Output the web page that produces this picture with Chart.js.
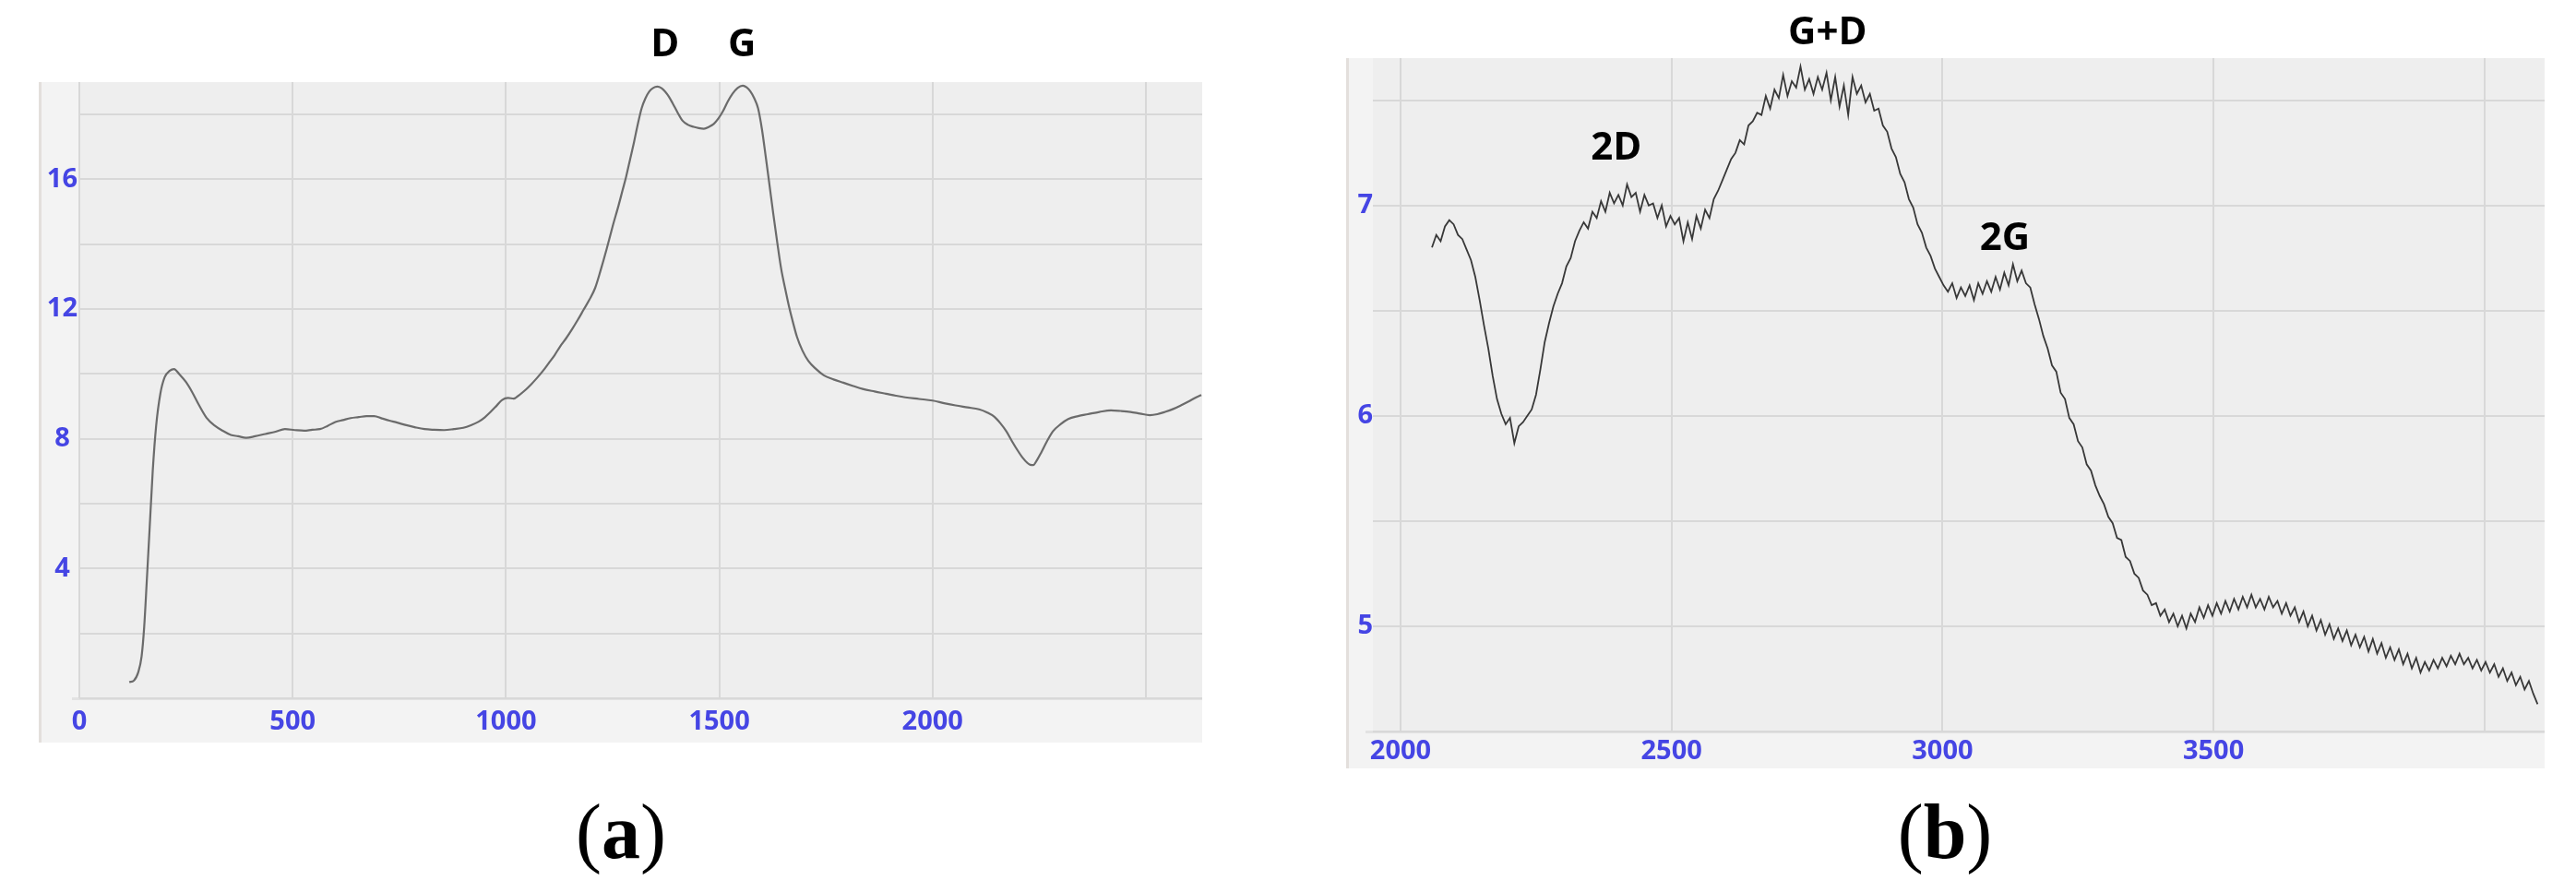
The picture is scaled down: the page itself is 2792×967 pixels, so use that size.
<!DOCTYPE html>
<html>
<head>
<meta charset="utf-8">
<script src="https://cdn.jsdelivr.net/npm/chart.js@4.4.1/dist/chart.umd.min.js"></script>
<style>
  html, body { margin: 0; padding: 0; background: #fff; }
  body { width: 2792px; height: 967px; position: relative; overflow: hidden; }
  canvas { position: absolute; top: 0; }
  #chartA { left: 0; }
  #chartB { left: 1400px; }
  .caption {
    position: absolute; top: 854px; width: 300px; text-align: center;
    font-family: 'Liberation Serif', 'DejaVu Serif', serif; font-size: 84px; line-height: 96px; color: #000;
  }
  #capA { left: 523px; }
  #capB { left: 1958px; }
</style>
</head>
<body>
<canvas id="chartA" width="1340" height="840"></canvas>
<canvas id="chartB" width="1392" height="840"></canvas>
<div class="caption" id="capA">(<b>a</b>)</div>
<div class="caption" id="capB">(<b>b</b>)</div>
<script>
// panel (a): Raman shift vs intensity
const ramanA = [117, 128, 138, 146, 152, 158, 165, 172, 180, 190,
  200, 212, 222, 234, 250, 264, 280, 298, 318, 336,
  355, 372, 391, 412, 436, 460, 482, 505, 527, 546,
  564, 582, 600, 618, 636, 655, 673, 691, 709, 727,
  745, 764, 786, 809, 832, 855, 878, 900, 918, 936,
  950, 964, 978, 991, 1005, 1018, 1031, 1045, 1059, 1073,
  1087, 1100, 1114, 1127, 1141, 1155, 1168, 1182, 1196, 1209,
  1222, 1236, 1250, 1264, 1273, 1282, 1291, 1300, 1309, 1318,
  1327, 1336, 1345, 1355, 1364, 1373, 1382, 1391, 1402, 1414,
  1427, 1440, 1452, 1464, 1476, 1487, 1498, 1509, 1520, 1531,
  1543, 1555, 1564, 1573, 1582, 1591, 1600, 1609, 1618, 1627,
  1636, 1645, 1655, 1664, 1673, 1682, 1695, 1709, 1727, 1745,
  1768, 1791, 1814, 1836, 1864, 1891, 1914, 1936, 1968, 2000,
  2027, 2054, 2082, 2109, 2127, 2145, 2159, 2173, 2186, 2200,
  2211, 2222, 2229, 2236, 2245, 2254, 2268, 2282, 2300, 2318,
  2341, 2364, 2391, 2418, 2441, 2464, 2486, 2509, 2527, 2545,
  2564, 2582, 2600, 2618, 2630];
const intensityA = [0.50, 0.55, 0.80, 1.30, 2.20, 3.60, 5.30, 7.00, 8.40, 9.40,
  9.90, 10.10, 10.15, 10.00, 9.75, 9.45, 9.05, 8.65, 8.40, 8.25,
  8.12, 8.08, 8.03, 8.08, 8.15, 8.22, 8.30, 8.27, 8.25, 8.28,
  8.30, 8.40, 8.52, 8.58, 8.64, 8.67, 8.70, 8.70, 8.63, 8.56,
  8.50, 8.43, 8.36, 8.30, 8.28, 8.27, 8.30, 8.34, 8.42, 8.53,
  8.66, 8.83, 9.02, 9.20, 9.26, 9.24, 9.35, 9.50, 9.68, 9.88,
  10.10, 10.33, 10.58, 10.85, 11.10, 11.38, 11.66, 11.98, 12.30, 12.65,
  13.20, 13.85, 14.55, 15.20, 15.65, 16.10, 16.62, 17.14, 17.70, 18.19,
  18.50, 18.71, 18.82, 18.86, 18.82, 18.71, 18.55, 18.34, 18.07, 17.81,
  17.68, 17.62, 17.58, 17.56, 17.62, 17.71, 17.88, 18.11, 18.40, 18.64,
  18.82, 18.89, 18.84, 18.71, 18.50, 18.19, 17.55, 16.69, 15.80, 14.90,
  14.05, 13.25, 12.60, 12.05, 11.58, 11.15, 10.72, 10.40, 10.15, 9.96,
  9.83, 9.73, 9.63, 9.54, 9.46, 9.39, 9.33, 9.28, 9.23, 9.18,
  9.10, 9.03, 8.97, 8.91, 8.82, 8.68, 8.48, 8.23, 7.93, 7.63,
  7.42, 7.26, 7.20, 7.19, 7.35, 7.56, 7.92, 8.23, 8.45, 8.61,
  8.70, 8.76, 8.83, 8.88, 8.86, 8.83, 8.78, 8.73, 8.76, 8.83,
  8.92, 9.03, 9.15, 9.28, 9.35];
const xTickLabelsA = [0, 500, 1000, 1500, 2000];
const yTickLabelsA = [4, 8, 12, 16];
const peakNamesA = ['D', 'G'];
const peakXA = [1373, 1553];
const peakYA = [20.15, 20.15];

// panel (b): second-order region
const ramanB = [2058, 2066, 2074, 2082, 2090, 2098, 2106, 2114, 2122, 2130,
  2138, 2146, 2154, 2162, 2170, 2178, 2186, 2194, 2202, 2210,
  2218, 2226, 2234, 2242, 2250, 2258, 2266, 2274, 2282, 2290,
  2298, 2306, 2314, 2322, 2330, 2338, 2346, 2354, 2362, 2370,
  2378, 2386, 2394, 2402, 2410, 2418, 2426, 2434, 2442, 2450,
  2458, 2466, 2474, 2482, 2490, 2498, 2506, 2514, 2522, 2530,
  2538, 2546, 2554, 2562, 2570, 2578, 2586, 2594, 2602, 2610,
  2618, 2626, 2634, 2642, 2650, 2658, 2666, 2674, 2682, 2690,
  2698, 2706, 2714, 2722, 2730, 2738, 2746, 2754, 2762, 2770,
  2778, 2786, 2794, 2802, 2810, 2818, 2826, 2834, 2842, 2850,
  2858, 2866, 2874, 2882, 2890, 2898, 2906, 2914, 2922, 2930,
  2938, 2946, 2954, 2962, 2970, 2978, 2986, 2994, 3002, 3010,
  3018, 3026, 3034, 3042, 3050, 3058, 3066, 3074, 3082, 3090,
  3098, 3106, 3114, 3122, 3130, 3138, 3146, 3154, 3162, 3170,
  3178, 3186, 3194, 3202, 3210, 3218, 3226, 3234, 3242, 3250,
  3258, 3266, 3274, 3282, 3290, 3298, 3306, 3314, 3322, 3330,
  3338, 3346, 3354, 3362, 3370, 3378, 3386, 3394, 3402, 3410,
  3418, 3426, 3434, 3442, 3450, 3458, 3466, 3474, 3482, 3490,
  3498, 3506, 3514, 3522, 3530, 3538, 3546, 3554, 3562, 3570,
  3578, 3586, 3594, 3602, 3610, 3618, 3626, 3634, 3642, 3650,
  3658, 3666, 3674, 3682, 3690, 3698, 3706, 3714, 3722, 3730,
  3738, 3746, 3754, 3762, 3770, 3778, 3786, 3794, 3802, 3810,
  3818, 3826, 3834, 3842, 3850, 3858, 3866, 3874, 3882, 3890,
  3898, 3906, 3914, 3922, 3930, 3938, 3946, 3954, 3962, 3970,
  3978, 3986, 3994, 4002, 4010, 4018, 4026, 4034, 4042, 4050,
  4058, 4066, 4074, 4082, 4090, 4098];
const intensityB = [6.80, 6.86, 6.83, 6.90, 6.93, 6.91, 6.86, 6.84, 6.79, 6.74,
  6.66, 6.55, 6.43, 6.32, 6.19, 6.08, 6.01, 5.96, 5.99, 5.87,
  5.95, 5.97, 6.00, 6.03, 6.10, 6.22, 6.35, 6.44, 6.52, 6.58,
  6.63, 6.71, 6.75, 6.83, 6.88, 6.92, 6.89, 6.97, 6.94, 7.02,
  6.97, 7.06, 7.01, 7.05, 7.00, 7.10, 7.04, 7.06, 6.97, 7.05,
  7.00, 7.01, 6.94, 7.00, 6.90, 6.95, 6.91, 6.94, 6.83, 6.92,
  6.84, 6.95, 6.89, 6.98, 6.94, 7.03, 7.07, 7.12, 7.17, 7.22,
  7.25, 7.31, 7.29, 7.38, 7.40, 7.44, 7.43, 7.52, 7.46, 7.55,
  7.51, 7.62, 7.52, 7.59, 7.56, 7.66, 7.55, 7.60, 7.53, 7.61,
  7.55, 7.63, 7.50, 7.61, 7.47, 7.57, 7.43, 7.61, 7.53, 7.57,
  7.49, 7.53, 7.45, 7.46, 7.38, 7.35, 7.27, 7.23, 7.15, 7.11,
  7.03, 6.99, 6.91, 6.87, 6.80, 6.76, 6.70, 6.66, 6.62, 6.59,
  6.63, 6.56, 6.61, 6.57, 6.62, 6.55, 6.63, 6.58, 6.64, 6.59,
  6.66, 6.60, 6.68, 6.62, 6.72, 6.64, 6.69, 6.63, 6.61, 6.53,
  6.46, 6.38, 6.32, 6.24, 6.21, 6.11, 6.08, 5.99, 5.96, 5.88,
  5.85, 5.77, 5.74, 5.67, 5.62, 5.58, 5.52, 5.49, 5.42, 5.41,
  5.33, 5.31, 5.25, 5.23, 5.17, 5.15, 5.10, 5.11, 5.05, 5.08,
  5.02, 5.06, 5.00, 5.05, 4.99, 5.06, 5.02, 5.09, 5.04, 5.10,
  5.05, 5.11, 5.06, 5.12, 5.07, 5.13, 5.08, 5.14, 5.09, 5.15,
  5.09, 5.13, 5.08, 5.14, 5.09, 5.12, 5.06, 5.11, 5.05, 5.09,
  5.02, 5.07, 5.00, 5.05, 4.98, 5.03, 4.96, 5.01, 4.94, 4.99,
  4.93, 4.98, 4.91, 4.96, 4.90, 4.95, 4.88, 4.94, 4.87, 4.92,
  4.85, 4.90, 4.84, 4.89, 4.82, 4.87, 4.80, 4.85, 4.78, 4.83,
  4.79, 4.84, 4.80, 4.85, 4.81, 4.86, 4.82, 4.87, 4.82, 4.85,
  4.80, 4.84, 4.79, 4.83, 4.78, 4.82, 4.76, 4.80, 4.74, 4.78,
  4.72, 4.76, 4.70, 4.74, 4.68, 4.63];
const xTickLabelsB = [2000, 2500, 3000, 3500];
const yTickLabelsB = [5, 6, 7];
const peakNamesB = ['2D', 'G+D', '2G'];
const peakXB = [2398, 2788, 3115];
const peakYB = [7.27, 7.82, 6.84];

const tickBlue = '#4545e4';
const tickFont = { family: "'Open Sans', 'DejaVu Sans', sans-serif", size: 29, weight: 'bold' };

// light grey instrument-style panel behind the plot
const panelBg = {
  id: 'panelBg',
  beforeDraw(chart) {
    const { ctx, chartArea: a, scales: { x, y } } = chart;
    ctx.save();
    ctx.fillStyle = '#f3f3f3';
    ctx.fillRect(y.left, a.top, a.right - y.left, x.bottom - a.top);
    ctx.fillStyle = '#eeeeee';
    ctx.fillRect(a.left, a.top, a.right - a.left, a.bottom - a.top);
    ctx.fillStyle = '#e3dfdc';
    ctx.fillRect(y.left, a.top, 3, x.bottom - a.top);
    ctx.fillStyle = '#e2e2e2';
    ctx.fillRect(a.left - 8, a.bottom - 1, a.right - a.left + 8, 3);
    ctx.restore();
  }
};

function peakLabels(names, xs, ys) {
  return {
    id: 'peakLabels',
    afterDatasetsDraw(chart) {
      const { ctx, scales: { x, y } } = chart;
      ctx.save();
      ctx.font = "bold 42px 'Open Sans', 'DejaVu Sans', sans-serif";
      ctx.fillStyle = '#000';
      ctx.textAlign = 'center';
      ctx.textBaseline = 'middle';
      names.forEach((n, i) => ctx.fillText(n, x.getPixelForValue(xs[i]), y.getPixelForValue(ys[i])));
      ctx.restore();
    }
  };
}

// one grid line per step inside the axis range
const gridEvery = (step) => (scale) => {
  const out = [];
  const first = Math.ceil(scale.min / step - 1e-9);
  const last = Math.floor(scale.max / step + 1e-9);
  for (let k = first; k <= last; k++) out.push({ value: +(k * step).toFixed(6) });
  scale.ticks = out;
};
const showOnly = (list) => (v) => (list.some((l) => Math.abs(l - v) < 1e-6) ? String(v) : '');

function axis(min, max, step, labels, size, pad, horizontal) {
  return {
    type: 'linear',
    min, max,
    afterBuildTicks: gridEvery(step),
    afterFit: (s) => { if (horizontal) s.height = size; else s.width = size; },
    grid: { color: '#d8d8d8', lineWidth: 2, drawTicks: false },
    border: { display: false },
    ticks: {
      autoSkip: false, maxRotation: 0, minRotation: 0, color: tickBlue, font: tickFont,
      padding: pad, crossAlign: horizontal ? 'near' : 'center', callback: showOnly(labels)
    }
  };
}

new Chart(document.getElementById('chartA'), {
  type: 'line',
  data: {
    datasets: [{
      data: ramanA.map((x, i) => ({ x, y: intensityA[i] })),
      borderColor: '#6b6b6b', borderWidth: 2.2, pointRadius: 0, cubicInterpolationMode: 'monotone'
    }]
  },
  options: {
    responsive: false, animation: false,
    layout: { padding: { left: 42, top: 89, right: 37, bottom: 35 } },
    plugins: { legend: { display: false }, tooltip: { enabled: false } },
    scales: {
      x: axis(0, 2632, 500, xTickLabelsA, 48, 8, true),
      y: axis(0, 19, 2, yTickLabelsA, 44, 2, false)
    }
  },
  plugins: [panelBg, peakLabels(peakNamesA, peakXA, peakYA)]
});

new Chart(document.getElementById('chartB'), {
  type: 'line',
  data: {
    datasets: [{
      data: ramanB.map((x, i) => ({ x, y: intensityB[i] })),
      borderColor: '#383838', borderWidth: 1.8, pointRadius: 0, tension: 0
    }]
  },
  options: {
    responsive: false, animation: false,
    layout: { padding: { left: 59, top: 63, right: 34, bottom: 7 } },
    plugins: { legend: { display: false }, tooltip: { enabled: false } },
    scales: {
      x: axis(1949, 4111, 500, xTickLabelsB, 40, 4, true),
      y: axis(4.5, 7.7, 0.5, yTickLabelsB, 29, 0, false)
    }
  },
  plugins: [panelBg, peakLabels(peakNamesB, peakXB, peakYB)]
});
</script>
</body>
</html>
